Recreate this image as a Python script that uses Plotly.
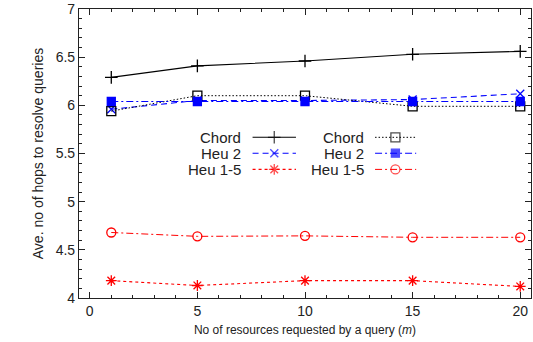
import plotly.graph_objects as go

# ---- data ----
m_values = [1, 5, 10, 15, 20]
chord_a = [6.29, 6.41, 6.46, 6.53, 6.56]
heu2_a = [5.96, 6.05, 6.05, 6.06, 6.12]
heu15_a = [4.18, 4.13, 4.18, 4.18, 4.12]
chord_b = [5.94, 6.10, 6.10, 5.99, 5.99]
heu2_b = [6.04, 6.04, 6.04, 6.04, 6.04]
heu15_b = [4.68, 4.64, 4.645, 4.63, 4.63]

series_names = ["Chord", "Heu 2", "Heu 1-5", "Chord", "Heu 2", "Heu 1-5"]
series_values = [chord_a, heu2_a, heu15_a, chord_b, heu2_b, heu15_b]

# ---- styles ----
styles = [
    dict(color="#000000", dash="solid", symbol="cross-thin", size=9, lw=1.1),
    dict(color="#0000ff", dash="6px,4px", symbol="x-thin", size=8, lw=1.1),
    dict(color="#ff0000", dash="3px,3px", symbol="asterisk", size=9, lw=1.1),
    dict(color="#000000", dash="1.5px,2px", symbol="square-open", size=9, lw=1.0),
    dict(color="#0000ff", dash="7px,3px,2px,3px", symbol="square", size=8, lw=1.1),
    dict(color="#ff0000", dash="7px,3px,2px,3px", symbol="circle-open", size=9, lw=1.0),
]

FONT = "Liberation Sans, Arial, Helvetica, sans-serif"
fig = go.Figure()

for name, vals, st in zip(series_names, series_values, styles):
    fig.add_trace(go.Scatter(
        x=m_values, y=vals, mode="lines+markers", name=name, showlegend=False,
        line=dict(color=st["color"], dash=st["dash"], width=st["lw"]),
        marker=dict(symbol=st["symbol"], size=st["size"], color=st["color"],
                    line=dict(color=st["color"], width=1.3)),
    ))

# ---- custom gnuplot-like legend (drawn on an overlay axis in 0..1 units) ----
row_y = [0.556, 0.501, 0.445]
col_text_x = [0.362, 0.635]
col_sample = [(0.384, 0.432, 0.480), (0.655, 0.700, 0.746)]

for i, (name, st) in enumerate(zip(series_names, styles)):
    col, row = divmod(i, 3)
    x0, xm, x1 = col_sample[col]
    y = row_y[row]
    fig.add_trace(go.Scatter(
        x=[x0, xm, x1], y=[y, y, y], xaxis="x2", yaxis="y2", mode="lines+markers",
        showlegend=False, hoverinfo="skip",
        line=dict(color=st["color"], dash=st["dash"], width=st["lw"]),
        marker=dict(symbol=st["symbol"], size=[0, st["size"], 0], color=st["color"],
                    line=dict(color=st["color"], width=1.3)),
    ))
    fig.add_annotation(x=col_text_x[col], y=y, xref="paper", yref="paper",
                       text=name, showarrow=False, xanchor="right", yanchor="middle",
                       font=dict(family=FONT, size=15, color="#222222"))

axis_common = dict(
    showline=True, linecolor="#222222", linewidth=1.2, mirror="ticks",
    ticks="inside", ticklen=6, tickwidth=1.1, tickcolor="#222222",
    showgrid=False, zeroline=False,
    tickfont=dict(family=FONT, size=14, color="#222222"),
)

fig.update_layout(
    width=533, height=342,
    margin=dict(l=79, r=2, t=9, b=44),
    paper_bgcolor="white", plot_bgcolor="white",
    xaxis=dict(
        range=[-0.5, 20.5], tick0=0, dtick=5,
        minor=dict(ticks="inside", ticklen=3, dtick=1, tickcolor="#222222", tickwidth=1),
        title=dict(text="No of resources requested by a query (<i>m</i>)",
                   font=dict(family=FONT, size=12, color="#222222"), standoff=7),
        **axis_common,
    ),
    yaxis=dict(
        range=[4, 7], tick0=4, dtick=0.5,
        minor=dict(ticks="inside", ticklen=3, dtick=0.1, tickcolor="#222222", tickwidth=1),
        title=dict(text="Ave. no of hops to resolve queries",
                   font=dict(family=FONT, size=14, color="#222222"), standoff=8),
        **axis_common,
    ),
    xaxis2=dict(overlaying="x", range=[0, 1], visible=False),
    yaxis2=dict(overlaying="y", range=[0, 1], visible=False),
    showlegend=False,
)

fig.write_html("out.html")
